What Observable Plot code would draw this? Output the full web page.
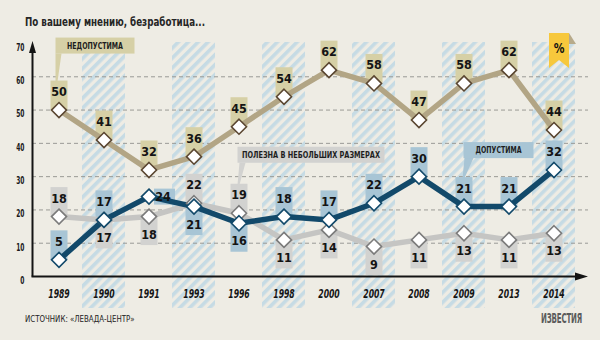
<!DOCTYPE html>
<html>
<head>
<meta charset="utf-8">
<script src="https://cdn.jsdelivr.net/npm/d3@7"></script>
<script src="https://cdn.jsdelivr.net/npm/@observablehq/plot@0.6"></script>
<style>
  html, body { margin: 0; padding: 0; background: #eeece4; }
  #wrap { position: relative; width: 600px; height: 340px; overflow: hidden;
          font-family: "DejaVu Sans Condensed", "DejaVu Sans", sans-serif; }
  #chart { position: absolute; left: 0; top: 0; }
  .title { position: absolute; left: 25px; top: 15px; font-size: 12px; font-weight: bold; color: #262626;
           white-space: nowrap; transform: scale(0.81, 1); transform-origin: left top; }
  .source { position: absolute; left: 25px; top: 314px; font-size: 8.5px; color: #222; white-space: nowrap;
            transform: scale(0.92, 1); transform-origin: left top; }
  .logo { position: absolute; left: 541px; top: 310px; font-size: 14px; font-weight: 900; color: #5b5b5b;
          white-space: nowrap; transform: scale(0.56, 1); transform-origin: left top; letter-spacing: -0.3px; }
</style>
</head>
<body>
<div id="wrap">
  <div id="chart"></div>
  <div class="title">По вашему мнению, безработица...</div>
  <div class="source">ИСТОЧНИК: «ЛЕВАДА-ЦЕНТР»</div>
  <div class="logo">ИЗВЕСТИЯ</div>
</div>
<script>
// ---------- data ----------
const years = ["1989","1990","1991","1993","1996","1998","2000","2007","2008","2009","2013","2014"];
const unacceptable = [50, 41, 32, 36, 45, 54, 62, 58, 47, 58, 62, 44];   // недопустима
const acceptable   = [5, 17, 24, 21, 16, 18, 17, 22, 30, 21, 21, 32];    // допустима
const usefulSmall  = [18, 17, 18, 22, 19, 11, 14, 9, 11, 13, 11, 13];    // полезна в небольших размерах
const hatchedYears = ["1990","1993","1998","2007","2009","2014"];
const yTicks = [0, 10, 20, 30, 40, 50, 60, 70];
const gridTicks = [10, 20, 30, 40, 50, 60];
const legendUnacceptable = "НЕДОПУСТИМА";
const legendAcceptable = "ДОПУСТИМА";
const legendUseful = "ПОЛЕЗНА В НЕБОЛЬШИХ РАЗМЕРАХ";
const unitBadge = "%";

// ---------- label placement (layout) ----------
const unaccSide = years.map(() => "up");
const accSide   = ["up","up","right","down","down","up","up","up","up","up","up","up"];
const useSide   = ["up","down","down","up","up","down","down","down","down","down","down","down"];

// ---------- styles ----------
const FONT = '"DejaVu Sans Condensed", "DejaVu Sans", sans-serif';
const styles = {
  unacc: {line: "#b2a585", box: "#d6d0a6", dot: "#5a4631"},
  acc:   {line: "#12496a", box: "#a8c5d5", dot: "#12496a"},
  use:   {line: "#c5c5c3", box: "#d2d2d0", dot: "#7b7b7b"}
};

const rows = [];
years.forEach((year, i) => {
  rows.push({year, key: "unacc", value: unacceptable[i], side: unaccSide[i]});
  rows.push({year, key: "acc", value: acceptable[i], side: accSide[i]});
  rows.push({year, key: "use", value: usefulSmall[i], side: useSide[i]});
});
const bandRows = hatchedYears.map(year => ({year}));

const diamond = {
  draw(ctx, size) {
    const h = Math.sqrt(size / 2);
    ctx.moveTo(0, -h); ctx.lineTo(h, 0); ctx.lineTo(0, h); ctx.lineTo(-h, 0); ctx.closePath();
  }
};

const BOX_W = 17, BOX_H = 29;

function centerX(scales, year) {
  const bw = scales.x.bandwidth ? scales.x.bandwidth() : 0;
  return scales.x(year) + bw / 2;
}

// axis lines with arrowheads
function axesMark(index, scales, values, dimensions) {
  const g = d3.create("svg:g");
  const x0 = dimensions.marginLeft + 0.5;
  const y0 = scales.y(0) + 0.5;
  const yTop = scales.y(70);
  const xEnd = dimensions.width - 12;
  g.append("line").attr("x1", x0).attr("x2", x0).attr("y1", y0).attr("y2", yTop + 6)
    .attr("stroke", "#141414").attr("stroke-width", 2);
  g.append("path").attr("d", `M${x0},${yTop - 2}L${x0 + 3.5},${yTop + 10}L${x0 - 3.5},${yTop + 10}Z`).attr("fill", "#141414");
  g.append("line").attr("x1", x0 - 1).attr("x2", xEnd - 8).attr("y1", y0).attr("y2", y0)
    .attr("stroke", "#141414").attr("stroke-width", 2);
  g.append("path").attr("d", `M${xEnd},${y0}L${xEnd - 13},${y0 - 4}L${xEnd - 13},${y0 + 4}Z`).attr("fill", "#141414");
  return g.node();
}

// legend callouts and the % badge
function calloutMark(index, scales, values, dimensions) {
  const g = d3.create("svg:g");
  function callout(year, value, text, st, boxW, textW, offX, gapY, ptr) {
    const cx = centerX(scales, year);
    const py = scales.y(value);
    const tipY = py - BOX_H;         // top of value label box
    const bx = cx + offX;
    const by = tipY - gapY;          // bottom of legend box
    g.append("path")
      .attr("d", `M${cx + ptr[0]},${by}L${cx + ptr[1]},${by}L${cx + ptr[2]},${tipY + 1}L${cx + ptr[3]},${tipY + 1}Z`)
      .attr("fill", st.box);
    g.append("rect").attr("x", bx).attr("y", by - 16).attr("width", boxW).attr("height", 16).attr("fill", st.box);
    g.append("text").attr("x", bx + boxW / 2).attr("y", by - 8).attr("dy", "0.36em")
      .attr("text-anchor", "middle").attr("font-family", FONT).attr("font-weight", "bold")
      .attr("font-size", 8.6).attr("textLength", textW).attr("lengthAdjust", "spacingAndGlyphs")
      .attr("fill", "#1e1e1e").text(text);
  }
  callout("1989", unacceptable[0], legendUnacceptable, styles.unacc, 79, 56, -3, 27, [-3, 3, -1, -3]);
  const i1996 = years.indexOf("1996");
  callout("1996", usefulSmall[i1996], legendUseful, styles.use, 147, 138, -1, 21, [1, 7, 1, -1]);
  const i2009 = years.indexOf("2009");
  callout("2009", acceptable[i2009], legendAcceptable, styles.acc, 70, 46, 0, 19, [1, 10, 1, -1]);

  // % badge above the last column
  const cx = centerX(scales, years[years.length - 1]);
  const left = cx - 4.5, right = cx + 15.5, top = 33, bottom = 68, notch = 60;
  const mid = (left + right) / 2;
  g.append("path").attr("d", `M${right},${top}L${right + 7},${top + 11}L${right},${top + 11}Z`).attr("fill", "#b7aa8a");
  g.append("path")
    .attr("d", `M${left},${top}L${right},${top}L${right},${bottom}L${mid},${notch}L${left},${bottom}Z`)
    .attr("fill", "#f7c83c");
  g.append("text").attr("x", mid).attr("y", 48).attr("dy", "0.35em").attr("text-anchor", "middle")
    .attr("font-family", FONT).attr("font-weight", "bold").attr("font-size", 14).attr("fill", "#111")
    .attr("transform", `translate(${mid},48) scale(0.85,1) translate(${-mid},-48)`)
    .text(unitBadge);
  return g.node();
}

const marks = [];
// hatched columns
marks.push(Plot.barY(bandRows, {x: "year", y1: 0, y2: 70, fill: "url(#hatch)", insetTop: -1, insetBottom: -32}));
// dashed grid
marks.push(Plot.ruleY(gridTicks, {stroke: "#9a9a96", strokeWidth: 1, strokeDasharray: "4,3", insetRight: -7}));
marks.push(axesMark);
// value label boxes
for (const key of ["use", "acc", "unacc"]) {
  const st = styles[key];
  const d = rows.filter(r => r.key === key);
  marks.push(Plot.ruleX(d.filter(r => r.side === "up"), {x: "year", y1: "value", y2: "value", insetTop: -BOX_H, stroke: st.box, strokeWidth: BOX_W}));
  marks.push(Plot.ruleX(d.filter(r => r.side === "down"), {x: "year", y1: "value", y2: "value", insetBottom: -BOX_H, stroke: st.box, strokeWidth: BOX_W}));
  marks.push(Plot.ruleY(d.filter(r => r.side === "right"), {y: "value", x1: "year", x2: "year", insetLeft: 27, insetRight: -5, stroke: st.box, strokeWidth: 16}));
}
marks.push(calloutMark);
// lines
for (const key of ["use", "acc", "unacc"]) {
  marks.push(Plot.line(rows.filter(r => r.key === key), {x: "year", y: "value", stroke: styles[key].line, strokeWidth: 5.5, strokeLinejoin: "round"}));
}
// diamonds
for (const key of ["use", "acc", "unacc"]) {
  marks.push(Plot.dot(rows.filter(r => r.key === key), {x: "year", y: "value", symbol: diamond, r: 6, fill: "white", stroke: styles[key].dot, strokeWidth: 1.6}));
}
// value labels
const textOpts = {x: "year", y: "value", text: d => String(d.value), fontFamily: FONT, fontWeight: "bold", fontSize: 12.5, fill: "#141414", ariaLabel: "value-label"};
marks.push(Plot.text(rows.filter(r => r.side === "up"), {...textOpts, dy: -18}));
marks.push(Plot.text(rows.filter(r => r.side === "down"), {...textOpts, dy: 18}));
marks.push(Plot.text(rows.filter(r => r.side === "right"), {...textOpts, dx: 14}));
// axes
marks.push(Plot.axisY({ticks: yTicks, tickSize: 0, tickPadding: 8, dy: 4, fontSize: 10.5, fontWeight: "bold", fontFamily: FONT, fill: "#1a1a1a", label: null}));
marks.push(Plot.axisX({tickSize: 0, tickPadding: 12, fontSize: 13, fontWeight: "bold", fontStyle: "italic", fontFamily: FONT, fill: "#141414", label: null}));

const chart = Plot.plot({
  width: 600,
  height: 340,
  marginLeft: 32,
  marginRight: 19,
  marginTop: 43,
  marginBottom: 64,
  style: {background: "transparent", overflow: "visible"},
  x: {type: "band", domain: years, padding: 0.035, label: null},
  y: {domain: [0, 70], label: null},
  marks
});

const svg = d3.select(chart.tagName.toLowerCase() === "svg" ? chart : chart.querySelector("svg"));

// narrow the condensed font horizontally to match the reference's DIN-like lettering
function squeeze(selector, sx) {
  svg.selectAll(selector).each(function () {
    const t = d3.select(this);
    const tr = t.attr("transform");
    if (tr) t.attr("transform", `${tr} scale(${sx},1)`);
    else {
      const x = +t.attr("x") || 0, y = +t.attr("y") || 0;
      t.attr("transform", `translate(${x},${y}) scale(${sx},1) translate(${-x},${-y})`);
    }
  });
}
squeeze('g[aria-label="value-label"] text', 0.8);
squeeze('g[aria-label="y-axis tick label"] text', 0.63);
squeeze('g[aria-label="x-axis tick label"] text', 0.66);

// hatch pattern definition
const defs = svg.insert("defs", ":first-child");
const pat = defs.append("pattern").attr("id", "hatch").attr("patternUnits", "userSpaceOnUse")
  .attr("width", 7).attr("height", 7).attr("patternTransform", "rotate(45)");
pat.append("rect").attr("width", 7).attr("height", 7).attr("fill", "#eeece4");
pat.append("rect").attr("width", 3.6).attr("height", 7).attr("fill", "#c6dbe4");

document.getElementById("chart").appendChild(chart);
</script>
</body>
</html>
